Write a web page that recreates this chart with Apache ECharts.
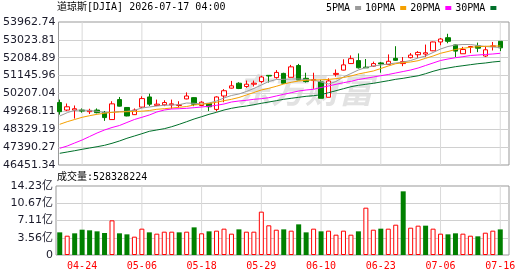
<!DOCTYPE html>
<html><head><meta charset="utf-8">
<script src="https://cdn.jsdelivr.net/npm/echarts@6/dist/echarts.min.js"></script>
<style>html,body{margin:0;padding:0;background:#fff}#c{width:530px;height:276px}</style>
</head><body><div id="c"></div>
<script>
const dates=['04-21','04-22','04-23','04-24','04-27','04-28','04-29','04-30','05-01','05-04','05-05','05-06','05-07','05-08','05-11','05-12','05-13','05-14','05-15','05-18','05-19','05-20','05-21','05-22','05-26','05-27','05-28','05-29','06-01','06-02','06-03','06-04','06-05','06-08','06-09','06-10','06-11','06-12','06-15','06-16','06-17','06-18','06-22','06-23','06-24','06-25','06-26','06-29','06-30','07-01','07-02','07-06','07-07','07-08','07-09','07-10','07-13','07-14','07-15','07-16'];
const opens=[49732,49337,49337,49337,49251,49337,49216,48838,49887,49474,49096,49492,50025,49578,49612,49612,49578,49922,49990,49578,49681,49371,50076,50489,50747,50575,50696,50833,51160,51040,51263,51057,51676,51005,50885,50816,50008,51212,51435,51779,51934,51590,51642,51814,51728,52054,51779,52089,52244,52278,52450,52914,53138,52760,52295,52639,52708,52175,52674,52949];
const closes=[49251,49509,49406,49285,49320,49199,48941,49664,49543,49027,49337,49939,49646,49646,49732,49664,49612,50076,49646,49750,49509,50025,50352,50610,50472,50696,50747,51074,51126,51315,50747,51607,50919,50833,50936,49956,50868,51263,51710,52037,51556,51556,51779,51762,51900,51951,51882,52226,52364,52347,52914,53069,52949,52433,52519,52674,52588,52502,52708,52605];
const highs=[49887,49681,49578,49423,49406,49423,49285,49801,50025,49492,49423,50059,50197,49887,49853,49887,49801,50266,50008,49801,49681,50059,50438,50868,50799,50885,50885,51143,51160,51435,51298,51710,51762,51298,51298,50919,51005,51470,52003,52209,52312,52020,51882,51865,52261,52691,52123,52330,52433,52777,52932,53121,53344,52777,52656,52708,52880,52708,52914,52949];
const lows=[49096,49285,48890,49199,49130,49165,48769,48821,49526,49010,49079,49440,49543,49543,49543,49406,49474,49904,49543,49543,49285,49268,49750,50472,50438,50506,50575,50747,50782,50988,50713,51057,50919,50782,50455,49956,50008,51091,51418,51762,51521,51556,51607,51298,51710,51917,51642,52054,52072,52123,52433,52742,52846,52123,52295,52330,52381,52123,52467,52433];
const ma5=[49025,49198,49325,49340,49314,49272,49209,49219,49261,49272,49325,49445,49498,49550,49587,49603,49619,49708,49692,49655,49708,49813,49971,50102,50181,50312,50470,50653,50837,50942,50953,50969,50969,50942,50916,50811,50706,50837,51074,51257,51441,51573,51651,51704,51757,51809,51862,51940,52072,52177,52361,52544,52676,52755,52781,52781,52728,52676,52650,52623];
const ma10=[48589,48726,48841,48957,49041,49114,49167,49219,49235,49251,49261,49277,49314,49377,49408,49445,49482,49524,49603,49640,49682,49745,49829,49902,49997,50128,50259,50391,50480,50585,50706,50795,50864,50900,50916,50927,50948,50984,51047,51126,51231,51310,51389,51520,51651,51772,51825,51862,51930,52056,52177,52319,52413,52518,52581,52634,52665,52686,52702,52702];
const ma20=[47328,47449,47607,47764,47948,48132,48290,48421,48526,48684,48841,48957,49078,49235,49340,49393,49408,49429,49461,49498,49535,49587,49655,49760,49813,49850,49902,49934,49986,50076,50165,50249,50338,50391,50428,50522,50601,50690,50774,50848,50942,51005,51074,51142,51205,51284,51363,51441,51546,51678,51809,51940,52019,52087,52140,52203,52229,52256,52282,52319];
const ma30=[47066,47134,47202,47276,47344,47412,47486,47591,47712,47854,47974,48095,48221,48290,48358,48463,48589,48726,48867,48988,49114,49219,49340,49429,49498,49550,49619,49692,49760,49829,49902,49955,50007,50060,50091,50144,50249,50354,50459,50564,50638,50690,50743,50811,50879,50953,51005,51074,51137,51247,51373,51478,51546,51615,51667,51720,51772,51809,51862,51898];
// volume in 亿
const volumes=[4.67,3.98,4.47,5.22,5.09,4.88,4.54,7.15,4.47,4.26,3.78,5.43,4.67,4.40,4.81,4.81,4.67,4.81,5.70,4.47,4.88,5.02,5.43,4.40,5.29,4.81,4.81,8.94,6.12,5.22,5.29,5.02,6.32,4.67,5.43,4.88,5.02,4.19,5.02,4.19,4.88,9.76,5.22,5.43,5.43,6.25,13.13,5.63,6.05,6.05,5.43,4.40,4.26,4.47,4.40,3.98,3.85,4.60,5.02,5.28];
const volUp=[0,1,0,0,0,0,0,1,0,0,1,1,0,1,1,1,0,1,0,1,0,1,1,1,0,1,1,1,1,1,0,1,0,0,1,0,1,1,1,1,0,1,1,0,1,1,0,1,1,0,1,1,0,0,1,1,0,1,1,0];
const priceTicks=[46451.34,47390.27,48329.19,49268.11,50207.04,51145.96,52084.89,53023.81,53962.74];
const volTickLabels=['0','3.56亿','7.11亿','10.67亿','14.23亿'];
const volMax=14.23;
const labelStep=8, firstLabel=3;
const maNames=['5PMA','10PMA','20PMA','30PMA'];
const maColors=['#9a9a9a','#f5a000','#ff00ff','#00702a'];
const titleText='道琼斯[DJIA] 2026-07-17 04:00';
const volTitle='成交量:528328224';

const MONO="'DejaVu Sans Mono','Noto Sans CJK SC',monospace";
const SANS="'DejaVu Sans','Noto Sans CJK SC',sans-serif";
const pMin=priceTicks[0], pMax=priceTicks[priceTicks.length-1], pInt=(pMax-pMin)/(priceTicks.length-1);
const vInt=volMax/(volTickLabels.length-1);
const showLabel=(idx)=>idx%labelStep===firstLabel;

// layout
const L=56, W=448, FRAME_W=453, MT=22, MH=143, VT=186, VH=69;

const candleData=dates.map((d,i)=>[opens[i],closes[i],lows[i],highs[i]]);
const volData=volumes.map((v,i)=>({value:v,itemStyle:volUp[i]?{color:'#ffffff',borderColor:'#ff0000',borderWidth:1}:{color:'#008000',borderColor:'#008000',borderWidth:0}}));
const maArr=[ma5,ma10,ma20,ma30];
// guide columns (full-height, 1px) at labelled dates, drawn as thin bars on hidden twin axes
const guideMain=dates.map((d,i)=>showLabel(i)?pMax:null);
const guideVol=dates.map((d,i)=>showLabel(i)?volMax:null);
const guideStyle={color:'#d9d9d9'};

const chart=echarts.init(document.getElementById('c'),null,{renderer:'canvas'});
chart.setOption({
  animation:false,
  backgroundColor:'#ffffff',
  title:[
    {text:titleText,left:57,top:2,padding:0,textStyle:{fontFamily:MONO,fontSize:10,fontWeight:'normal',color:'#000'}},
    {text:volTitle,left:57,top:172,padding:0,textStyle:{fontFamily:MONO,fontSize:10,fontWeight:'normal',color:'#000'}}
  ],
  legend:{left:326,top:3,padding:0,itemWidth:6,itemHeight:4,itemGap:4,align:'right',icon:'rect',
    textStyle:{fontFamily:MONO,fontSize:10,color:'#000'},data:maNames},
  graphic:[{type:'text',left:237,top:73,z:-10,style:{text:'东方财富',font:'italic bold 34px "Noto Sans CJK SC"',fill:'#e2e2e2'}}],
  grid:[
    {left:L,top:MT,width:W,height:MH,show:false},
    {left:L,top:VT,width:W,height:VH,show:false},
    {left:L,top:MT,width:FRAME_W,height:MH,show:true,borderColor:'#999999',borderWidth:1,backgroundColor:'transparent'},
    {left:L,top:VT,width:FRAME_W,height:VH,show:true,borderColor:'#999999',borderWidth:1,backgroundColor:'transparent'}
  ],
  xAxis:[
    {type:'category',gridIndex:0,data:dates,boundaryGap:true,axisLine:{show:false},axisTick:{show:false},axisLabel:{show:false},splitLine:{show:false}},
    {type:'category',gridIndex:1,data:dates,boundaryGap:true,axisLine:{show:false},axisTick:{show:false},
      axisLabel:{interval:showLabel,color:'#ff0000',fontFamily:MONO,fontSize:10,margin:6},splitLine:{show:false}},
    {type:'value',gridIndex:2,min:0,max:1,show:false},
    {type:'value',gridIndex:3,min:0,max:1,show:false},
    {type:'category',gridIndex:0,data:dates,boundaryGap:true,show:false},
    {type:'category',gridIndex:1,data:dates,boundaryGap:true,show:false}
  ],
  yAxis:[
    {type:'value',gridIndex:0,min:pMin,max:pMax,show:false},
    {type:'value',gridIndex:1,min:0,max:volMax,show:false},
    {type:'value',gridIndex:2,min:pMin,max:pMax,interval:pInt,axisLine:{show:false},axisTick:{show:false},
      axisLabel:{margin:3,fontFamily:SANS,fontSize:11,color:'#1a1a2a',formatter:(v)=>priceTicks[Math.round((v-pMin)/pInt)].toFixed(2)},
      splitLine:{show:true,showMinLine:false,showMaxLine:false,lineStyle:{color:'#d0d0d0',width:1}}},
    {type:'value',gridIndex:3,min:0,max:volMax,interval:vInt,axisLine:{show:false},axisTick:{show:false},
      axisLabel:{margin:3,fontFamily:SANS,fontSize:11,color:'#1a1a2a',formatter:(v)=>volTickLabels[Math.round(v/vInt)]},
      splitLine:{show:true,showMinLine:false,showMaxLine:false,lineStyle:{color:'#d0d0d0',width:1}}}
  ],
  series:[
    {type:'bar',name:'guide-main',xAxisIndex:4,yAxisIndex:0,data:guideMain,barWidth:1,silent:true,z:1,itemStyle:guideStyle},
    {type:'bar',name:'guide-vol',xAxisIndex:5,yAxisIndex:1,data:guideVol,barWidth:1,silent:true,z:1,itemStyle:guideStyle},
    {type:'candlestick',name:'K',xAxisIndex:0,yAxisIndex:0,data:candleData,barWidth:5,z:3,
      itemStyle:{color:'#ffffff',color0:'#008000',borderColor:'#ff0000',borderColor0:'#008000',borderWidth:1}},
    ...maArr.map((arr,k)=>({type:'line',name:maNames[k],xAxisIndex:0,yAxisIndex:0,data:arr,symbol:'none',smooth:false,
      lineStyle:{color:maColors[k],width:1},itemStyle:{color:maColors[k]},z:4})),
    {type:'bar',name:'VOL',xAxisIndex:1,yAxisIndex:1,data:volData,barWidth:5,z:3}
  ]
});
</script></body></html>
